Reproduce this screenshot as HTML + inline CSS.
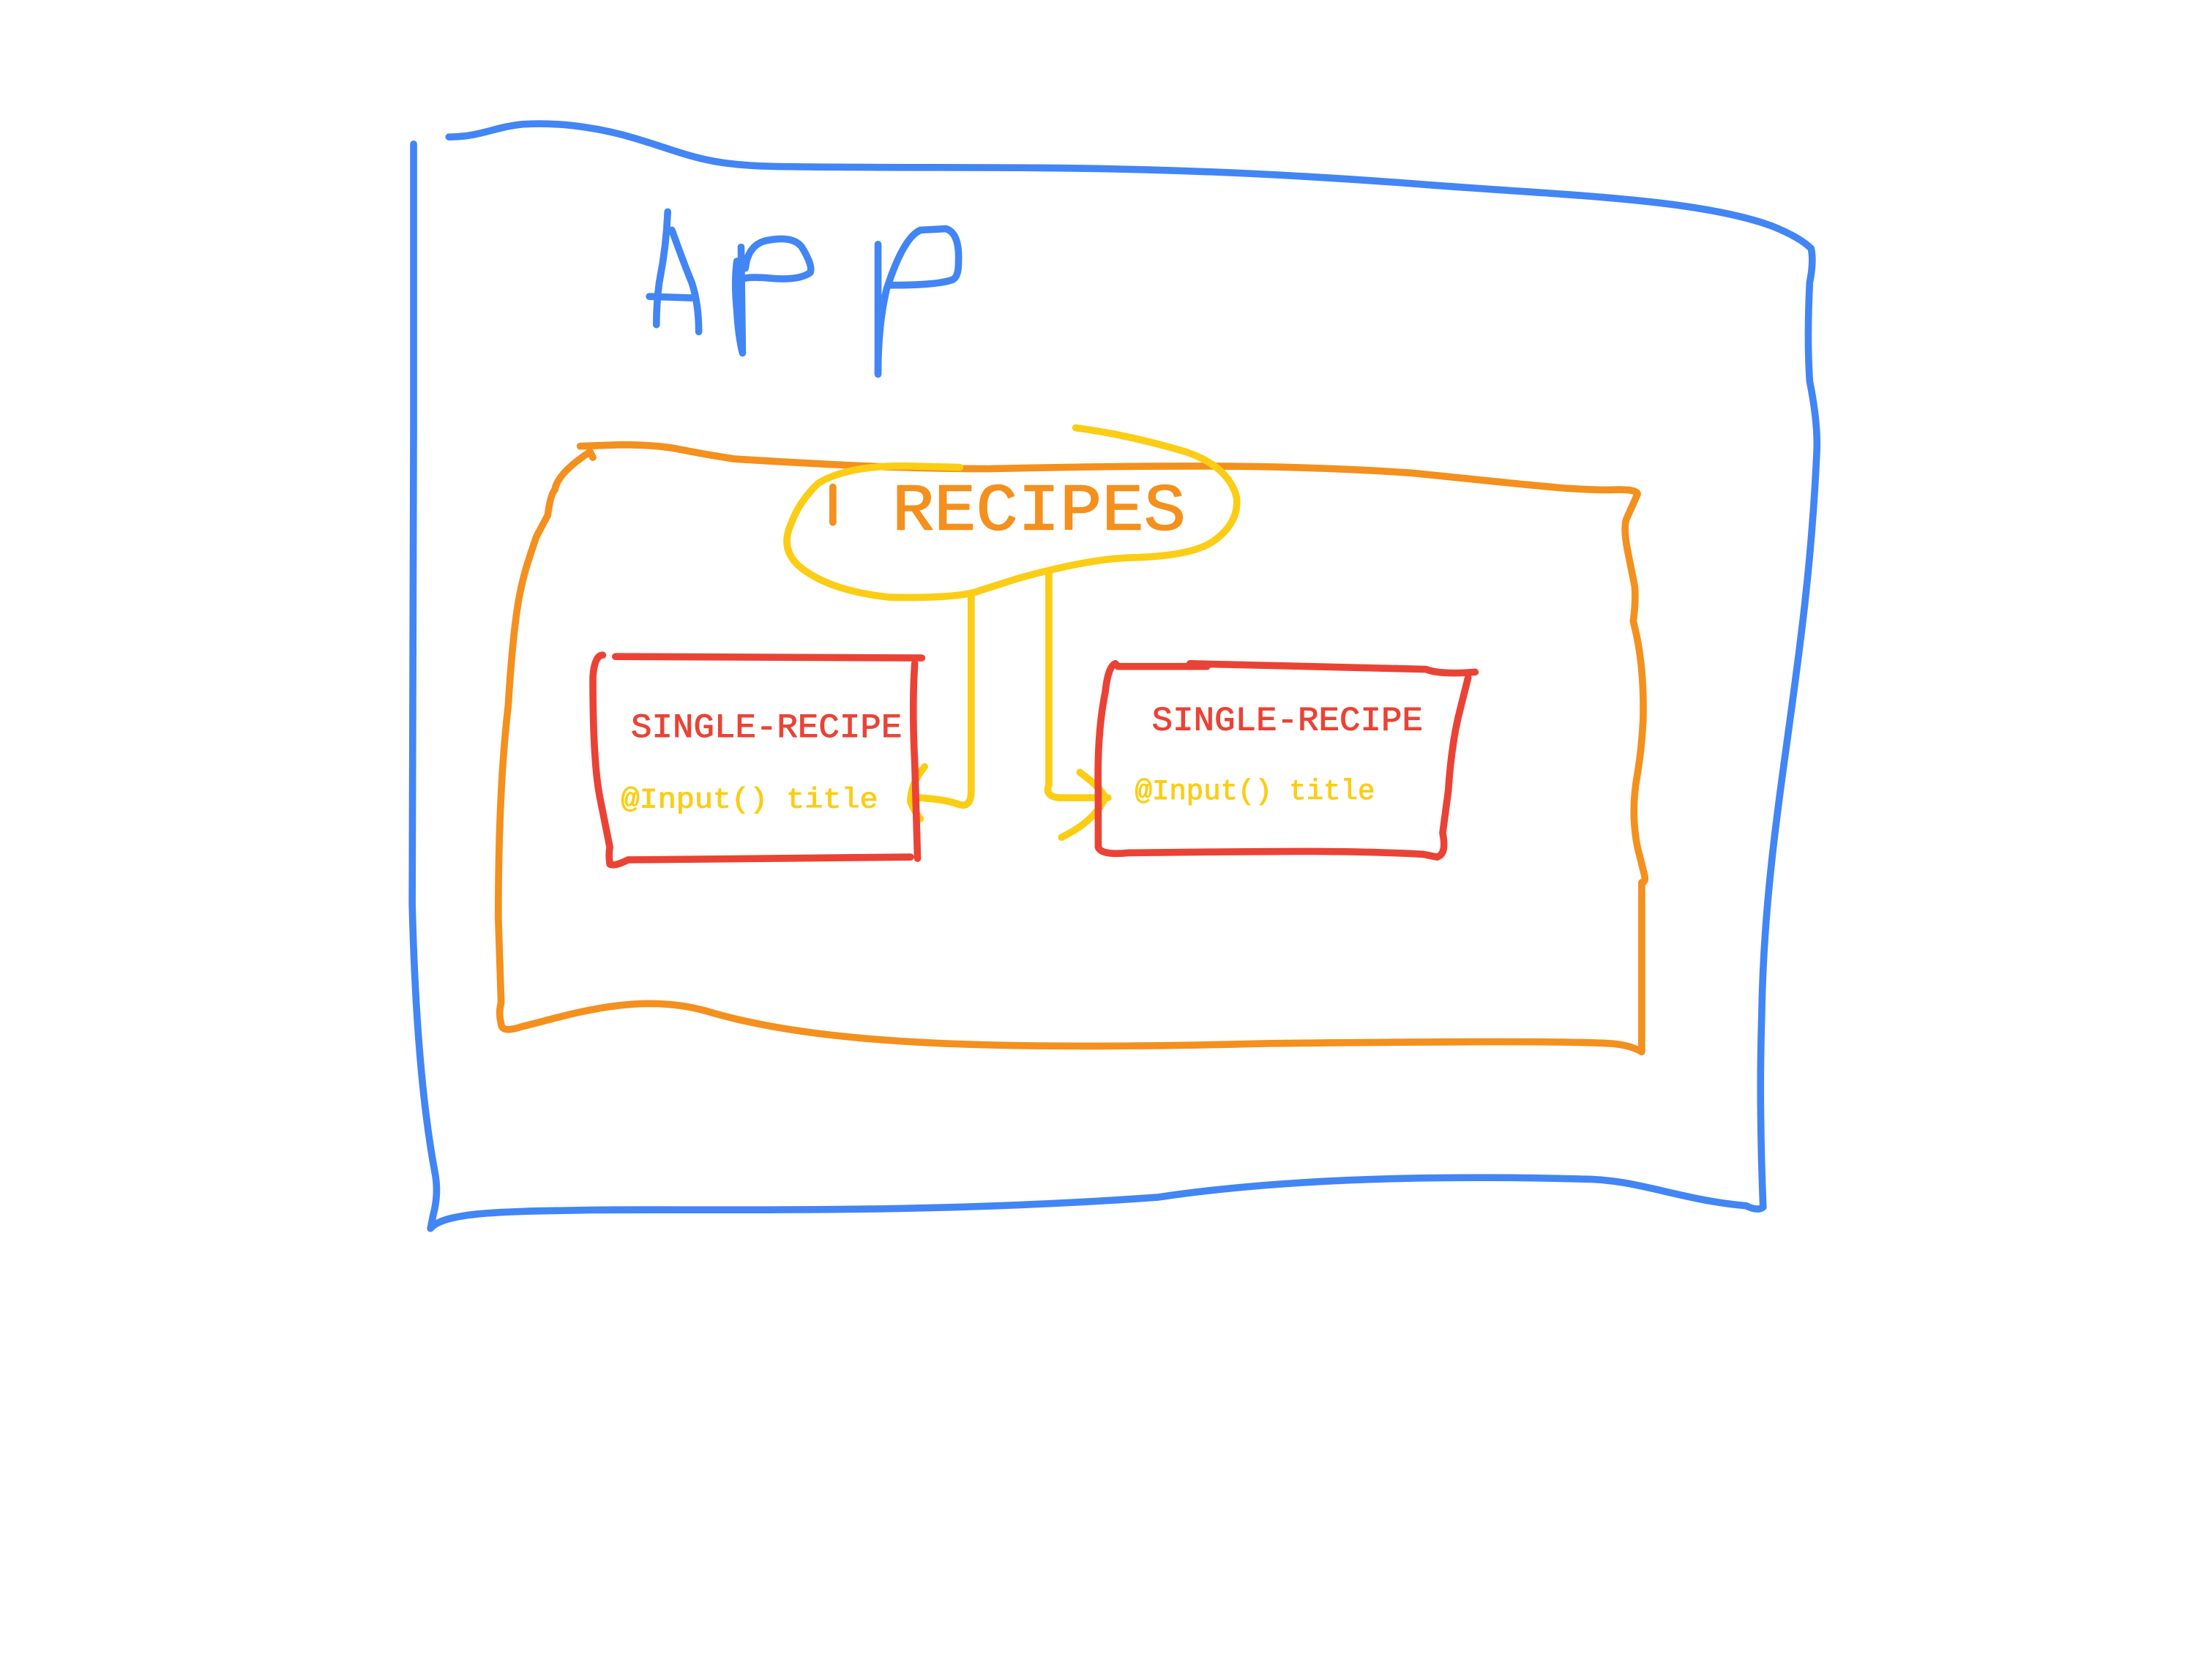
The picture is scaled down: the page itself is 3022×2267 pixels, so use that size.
<!DOCTYPE html>
<html><head><meta charset="utf-8"><style>
html,body{margin:0;padding:0;background:#fff;}
svg{display:block;}
</style></head><body>
<svg width="3022" height="2267" viewBox="0 0 1567 1175" preserveAspectRatio="none" xmlns="http://www.w3.org/2000/svg">
<g fill="none" stroke-linecap="round" stroke-linejoin="round" stroke-width="5">
<g stroke="#4285f4">
<path d="M293,102 L293,300 L292,640 Q295,760 308,830 Q311,845 307,860 L305,870"/>
<path d="M318,97 C340,97 350,90 370,88 C400,86 430,92 450,98 C490,110 500,118 560,118 C700,120 800,115 1000,130 C1100,138 1200,140 1255,160 Q1275,168 1283,176 Q1285,185 1282,200 Q1280,240 1282,270 Q1288,300 1287,320 C1280,480 1250,580 1248,720 Q1246,780 1249,855 Q1245,858 1237,854 C1190,850 1160,835 1120,835 C1000,832 900,836 820,848 C650,860 500,856 420,857 C360,858 315,858 305,870"/>
<path d="M473,150 Q472,175 467,200 Q465,215 465,230"/>
<path d="M476,163 Q485,188 490,200 Q495,215 495,235"/>
<path d="M460,210 L490,211"/>
<path d="M525,175 L526,250"/>
<path d="M522,185 Q520,200 522,220 Q523,238 526,250"/>
<path d="M528,190 Q530,172 545,170 Q562,167 568,175 Q576,188 574,193 Q566,199 545,197 Q533,196 528,197"/>
<path d="M622,173 L622,265"/>
<path d="M622,265 Q622,230 628,205 Q640,168 652,163 L670,162 Q680,165 679,186 Q679,196 675,198 Q665,202 630,202"/>
</g>
<path stroke="#f4901e" d="M411,316 L440,315 Q465,315 480,318 Q500,322 520,325 C600,330 650,332 700,332 C800,330 900,328 1000,335 C1080,343 1110,347 1140,347 Q1160,346 1160,350 L1152,368 Q1150,375 1153,390 L1158,415 Q1159,425 1157,440 Q1165,470 1164,510 Q1163,530 1160,548 Q1155,575 1160,600 L1165,620 Q1166,625 1163,625 L1163,745 Q1155,740 1140,739 C1100,737 1000,738 900,739 C700,744 580,740 500,716 C450,702 400,720 370,727 Q355,732 355,725 Q353,718 355,710 L353,650 Q353,560 360,500 C365,420 370,410 380,380 L388,365 Q390,350 393,347 Q395,335 418,320 L420,324"/>
<path stroke="#f4901e" d="M590,345 L590,370"/>
<text x="632" y="375" fill="#f4901e" stroke="#f4901e" stroke-width="0.8" font-family="Liberation Mono, monospace" font-size="47" textLength="208" lengthAdjust="spacingAndGlyphs">RECIPES</text>
<g stroke="#fbcd14">
<path d="M762,303 Q800,308 840,320 Q870,330 876,352 Q878,370 860,383 Q845,394 800,395 Q770,396 720,410 L695,418 Q680,424 630,423 Q585,418 565,400 Q553,388 560,372 Q566,355 580,342 Q600,330 640,330 L680,331"/>
<path d="M688,422 L688,560 Q688,572 680,570 Q670,566 650,565"/>
<path d="M655,543 Q645,555 645,568 Q648,575 652,580"/>
<path d="M743,405 L743,556 Q740,564 750,565 L785,565"/>
<path d="M765,547 Q780,558 783,565 Q775,582 752,593"/>
</g>
<path stroke="#ea4335" d="M436,465 L653,466 M648,470 Q646,500 648,540 L650,608 M645,607 L445,609 Q435,614 432,612 Q431,605 432,600 L425,565 Q420,540 420,480 Q421,464 427,464"/>
<path stroke="#ea4335" d="M792,472 L855,472 M843,470 L1010,474 Q1020,478 1045,476 M1040,480 L1033,508 Q1028,530 1026,560 L1022,590 Q1025,605 1018,607 L1008,605 C950,602 900,603 800,604 Q780,606 778,600 L778,560 Q777,520 783,490 Q785,472 790,470 L792,472"/>
<g font-family="Liberation Mono, monospace" stroke-width="0.5">
<text x="447" y="522" fill="#ea4335" stroke="#ea4335" font-size="24" textLength="192" lengthAdjust="spacingAndGlyphs">SINGLE-RECIPE</text>
<text x="440" y="572" fill="#fbcd14" stroke="#fbcd14" font-size="20" textLength="182" lengthAdjust="spacingAndGlyphs">@Input() title</text>
<text x="816" y="517" fill="#ea4335" stroke="#ea4335" font-size="24" textLength="192" lengthAdjust="spacingAndGlyphs">SINGLE-RECIPE</text>
<text x="804" y="566" fill="#fbcd14" stroke="#fbcd14" font-size="20" textLength="170" lengthAdjust="spacingAndGlyphs">@Input() title</text>
</g>
</g>
</svg>
</body></html>
